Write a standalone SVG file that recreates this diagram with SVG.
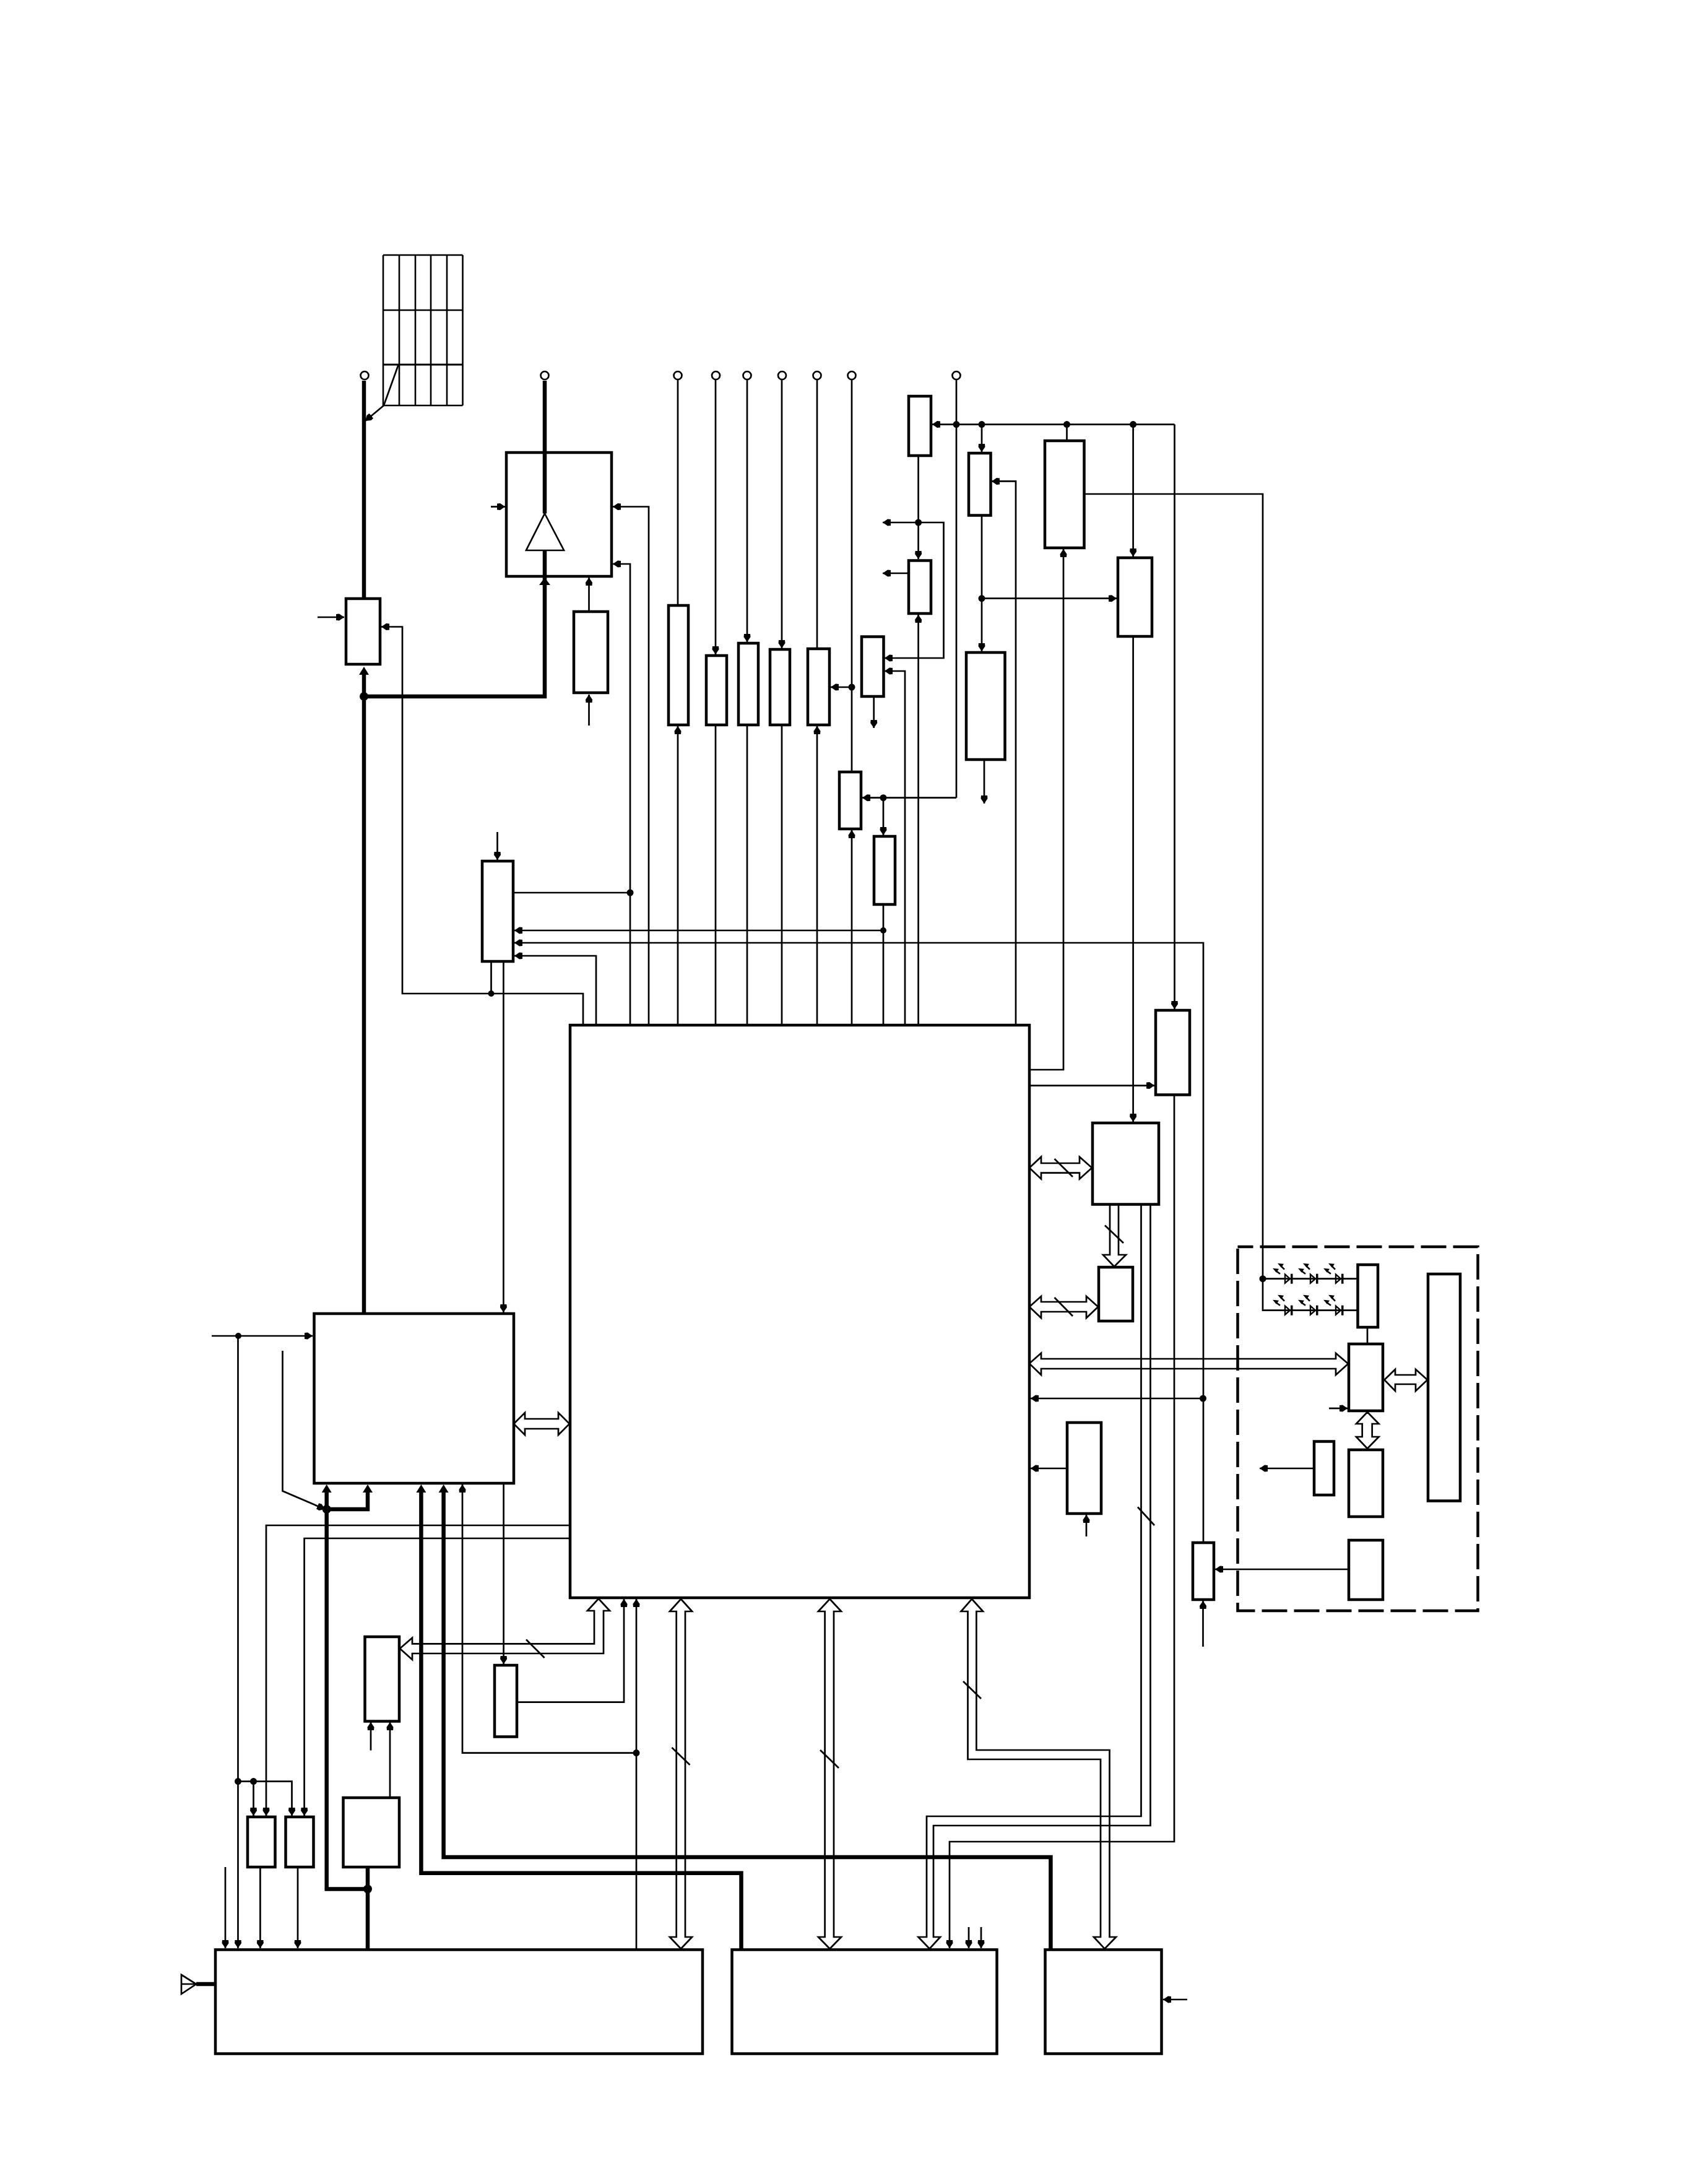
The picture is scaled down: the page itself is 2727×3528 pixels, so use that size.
<svg xmlns="http://www.w3.org/2000/svg" width="2727" height="3528" viewBox="0 0 2727 3528">
<style>
rect.b{fill:#fff;stroke:#000;stroke-width:4.5}
rect.s{fill:#fff;stroke:#000;stroke-width:4.5}
.c path,.c line{fill:none;stroke:#000;stroke-width:2.7}
.c path.k{stroke-width:6.5}
.c path.a{marker-end:url(#ar)}
.c path.ka{stroke-width:6.5;marker-end:url(#ar2)}
.c path.w{fill:none;stroke-width:2.7}
.c circle{fill:#000;stroke:none}
circle.t{fill:#fff;stroke:#000;stroke-width:2.7}
.g line{stroke:#000;stroke-width:2.6}
</style>
<defs>
<marker id="ar" markerUnits="userSpaceOnUse" markerWidth="14" markerHeight="12" refX="13" refY="6" orient="auto"><path d="M0,1 L5,0.5 L13,6 L5,11.5 L0,11 Z" fill="#000"/></marker>
<marker id="ar2" markerUnits="userSpaceOnUse" markerWidth="16" markerHeight="18" refX="7" refY="9" orient="auto"><path d="M0,1 L13,9 L0,17 Z" fill="#000"/></marker>
<g id="led">
<path d="M0,-7 L8,0 L0,7 Z" fill="#fff" stroke="#000" stroke-width="2.4"/>
<rect x="9" y="-8" width="3.5" height="16" fill="#000"/>
<path d="M-20,-17 L-10,-16 L-14,-10 Z" fill="#000"/><path d="M-15,-13 L-8,-8" stroke="#000" stroke-width="2.6"/>
<path d="M-12,-25 L-2,-24 L-6,-18 Z" fill="#000"/><path d="M-7,-21 L-1,-15" stroke="#000" stroke-width="2.6"/>
</g>
</defs>
<rect width="2727" height="3528" fill="#fff"/>

<g id="grid" class="g">
<line x1="619" y1="412" x2="747.5" y2="412"/><line x1="619" y1="501" x2="747.5" y2="501"/><line x1="619" y1="589" x2="747.5" y2="589" style="stroke-width:3.2"/><line x1="619" y1="655" x2="747.5" y2="655"/>
<line x1="619" y1="412" x2="619" y2="655"/><line x1="645" y1="412" x2="645" y2="655"/><line x1="671" y1="412" x2="671" y2="655"/><line x1="696" y1="412" x2="696" y2="655"/><line x1="722" y1="412" x2="722" y2="655"/><line x1="747.5" y1="412" x2="747.5" y2="655"/>
</g>

<g id="backlight-frame"><rect x="1999.5" y="2014" width="388" height="588" fill="none" stroke="#000" stroke-width="4.5" stroke-dasharray="41 11" stroke-dashoffset="16"/></g>

<g id="amp"><rect class="b" x="818" y="731" width="170" height="200"/><path d="M880,829.5 L911,889 L850,889 Z" fill="#fff" stroke="#000" stroke-width="2.7"/></g>
<g id="switch"><rect class="s" x="559" y="967" width="55" height="106"/></g>
<g id="n-ampsup"><rect class="s" x="927" y="988" width="55" height="131"/></g>
<g id="b1"><rect class="s" x="1080" y="978" width="32" height="193"/></g>
<g id="b2"><rect class="s" x="1141" y="1059" width="33" height="112"/></g>
<g id="b3"><rect class="s" x="1193" y="1039" width="32" height="132"/></g>
<g id="b4"><rect class="s" x="1244" y="1049" width="32" height="122"/></g>
<g id="b5"><rect class="s" x="1305" y="1048" width="35" height="123"/></g>
<g id="b6"><rect class="s" x="1392" y="1028.5" width="35.5" height="96.5"/></g>
<g id="c1"><rect class="s" x="1468" y="640" width="36" height="96"/></g>
<g id="c2"><rect class="s" x="1565" y="732" width="35.5" height="100.5"/></g>
<g id="c3"><rect class="s" x="1561" y="1054" width="62.5" height="173"/></g>
<g id="c4"><rect class="s" x="1688" y="712" width="63.5" height="173"/></g>
<g id="c5"><rect class="s" x="1806" y="901" width="55" height="127"/></g>
<g id="c6"><rect class="s" x="1468" y="905.5" width="36" height="85.5"/></g>
<g id="d1"><rect class="s" x="1356" y="1247" width="35" height="92"/></g>
<g id="d2"><rect class="s" x="1412" y="1351" width="34" height="110"/></g>
<g id="e"><rect class="s" x="779" y="1391" width="50" height="162"/></g>
<g id="main"><rect class="b" x="921" y="1656" width="742" height="925"/></g>
<g id="f"><rect class="b" x="507.5" y="2122" width="322.5" height="274"/></g>
<g id="h"><rect class="b" x="1765" y="1814" width="107" height="131.5"/></g>
<g id="i"><rect class="s" x="1867" y="1632" width="55" height="136.5"/></g>
<g id="j"><rect class="s" x="1775" y="2047" width="55" height="87"/></g>
<g id="p"><rect class="s" x="1724" y="2298" width="55" height="147"/></g>
<g id="g"><rect class="s" x="1927" y="2492" width="34" height="92"/></g>
<g id="q"><rect class="s" x="2193.5" y="2043" width="32.5" height="101"/></g>
<g id="r"><rect class="s" x="2179" y="2171" width="55" height="108"/></g>
<g id="s"><rect class="s" x="2307" y="2058" width="52" height="366.5"/></g>
<g id="t"><rect class="s" x="2179" y="2342" width="55" height="108"/></g>
<g id="u"><rect class="s" x="2123" y="2328.5" width="32" height="86.5"/></g>
<g id="v"><rect class="s" x="2179" y="2488" width="55" height="96"/></g>
<g id="n"><rect class="s" x="799" y="2690" width="36" height="115.5"/></g>
<g id="o"><rect class="s" x="589.5" y="2644" width="55.5" height="136.5"/></g>
<g id="m"><rect class="s" x="554.5" y="2904" width="90.5" height="112"/></g>
<g id="l1"><rect class="s" x="400" y="2935" width="44.5" height="81"/></g>
<g id="l2"><rect class="s" x="461.5" y="2935" width="45" height="81"/></g>
<g id="k1"><rect class="b" x="348" y="3149.5" width="787" height="168"/></g>
<g id="k2"><rect class="b" x="1182.5" y="3149.5" width="428" height="168"/></g>
<g id="k3"><rect class="b" x="1688.5" y="3149.5" width="188" height="168"/></g>
<g id="antenna"><path d="M293,3190 L317,3205 L293,3221 Z M293,3205 H317" fill="#fff" stroke="#000" stroke-width="2.7"/></g>
<g id="leds">
<use href="#led" x="2076" y="2065.7"/><use href="#led" x="2117" y="2065.7"/><use href="#led" x="2158" y="2065.7"/>
<use href="#led" x="2076" y="2116.7"/><use href="#led" x="2117" y="2116.7"/><use href="#led" x="2158" y="2116.7"/>
</g>

<g id="connectors" class="c">
<path class="k" d="M588,615 V966"/>
<path class="ka" d="M588,2122 V1083"/>
<path class="k" d="M880,615 V829.5"/>
<path class="k" d="M880,889 V1125 H588"/>
<path d="M871,945 L880,933 L889,945 Z" style="fill:#000;stroke:none"/>
<path class="k" d="M317,3205 H347.5"/>
<path class="k" d="M594,3017 V3149"/>
<path class="ka" d="M594,3051.5 H527.7 V2404"/>
<path class="ka" d="M527.7,2438 H594 V2404"/>
<path class="ka" d="M1197.5,3149 V3025.7 H680.4 V2404"/>
<path class="ka" d="M1697.4,3149 V3000 H716.6 V2404"/>
<circle cx="588" cy="1125" r="7"/><circle cx="527.7" cy="2438" r="7"/><circle cx="594" cy="3051.5" r="7"/>
<path class="a" d="M643.5,589.5 L620,655 L590,680"/>
<path class="a" d="M513,997 H556"/>
<path class="a" d="M793,818.5 H816"/>
<path class="a" d="M951.5,1172 V1122"/>
<path class="a" d="M951.5,988 V933"/>
<path class="a" d="M942,1656 V1605 H650 V1012.5 H616"/>
<path d="M793.5,1554 V1605"/><circle cx="793.5" cy="1605" r="5"/>
<path class="a" d="M813.4,1554 V2120"/>
<path class="a" d="M1048,1656 V818.5 H990"/>
<path class="a" d="M1018,1656 V911 H990"/>
<path d="M831,1442 H1018"/><circle cx="1018" cy="1442" r="5.5"/>
<path class="a" d="M963,1656 V1544 H831"/>
<path class="a" d="M803.5,1344 V1389"/>
<path class="a" d="M1427,1503 H831"/>
<path class="a" d="M1944,2492 V1523 H831"/>
<path class="a" d="M1095,1656 V1173"/><path d="M1095,614 V978"/>
<path class="a" d="M1156,614 V1057"/><path d="M1156,1171 V1656"/>
<path class="a" d="M1207,614 V1037"/><path d="M1207,1171 V1656"/>
<path class="a" d="M1263,614 V1047"/><path d="M1263,1171 V1656"/>
<path class="a" d="M1320,1656 V1173"/><path d="M1320,614 V1048"/>
<path d="M1376,614 V1247"/><path class="a" d="M1376,1656 V1341"/>
<path class="a" d="M1376,1110 H1342"/><circle cx="1376" cy="1110" r="5.5"/>
<path class="a" d="M1411.7,1125 V1176"/>
<path class="a" d="M1462,1656 V1084 H1429"/>
<path class="a" d="M1483.6,1656 V993"/>
<path class="a" d="M1483.6,736 V903"/><circle cx="1483.6" cy="844" r="5.5"/>
<path class="a" d="M1483.6,844 H1426"/>
<path class="a" d="M1483.6,844 H1524.5 V1063 H1429"/>
<path class="a" d="M1468,926 H1426"/>
<path d="M1545,614 V1288.7"/>
<path class="a" d="M1545,1288.7 H1393"/><circle cx="1545" cy="685.6" r="5.5"/><circle cx="1427" cy="1288.7" r="5.5"/>
<path class="a" d="M1427,1288.7 V1349"/>
<path d="M1427,1461 V1656"/><circle cx="1427" cy="1503" r="5"/>
<path class="a" d="M1897.5,685.6 H1506"/>
<path class="a" d="M1897.5,685.6 V1630"/>
<circle cx="1586" cy="685.6" r="5.5"/><circle cx="1723.5" cy="685.6" r="5.5"/><circle cx="1830.6" cy="685.6" r="5.5"/>
<path class="a" d="M1586,685.6 V730"/>
<path class="a" d="M1586,832.5 V1052"/><circle cx="1586" cy="966.7" r="5.5"/>
<path class="a" d="M1586,966.7 H1804"/>
<path class="a" d="M1590,1227 V1298"/>
<path class="a" d="M1641,1656 V777.4 H1602"/>
<path d="M1723.5,685.6 V712"/>
<path class="a" d="M1663,1728 H1718 V887"/>
<path d="M1751,798 H2040 V2116.7 H2193"/>
<path d="M2040,2065.7 H2193"/><circle cx="2040" cy="2065.7" r="5.5"/>
<path class="a" d="M1830.6,685.6 V899"/><path class="a" d="M1830.6,1028 V1812"/>
<path class="a" d="M1663,1753.6 H1865"/>
<path class="a" d="M1897,1768.5 V2975 H1534 V3147"/>
<path class="a" d="M1943.5,2259 H1665"/><circle cx="1943.5" cy="2259" r="5.5"/>
<path class="a" d="M1943.5,2660 V2586"/>
<path class="a" d="M2179,2535 H1963"/>
<path class="a" d="M2123,2372 H2035"/>
<path class="a" d="M2147,2275 H2177"/>
<path d="M2209,2144 V2171"/>
<path class="a" d="M1724,2372 H1665"/>
<path class="a" d="M1755,2482 V2447"/>
<path class="a" d="M342,2158 H505"/><circle cx="385" cy="2158" r="5"/>
<path class="a" d="M384.5,2158 V3147"/>
<circle cx="384.5" cy="2877.6" r="5.5"/><circle cx="409.5" cy="2877.6" r="5.5"/>
<path class="a" d="M384,2877.6 H471.5 V2933"/>
<path class="a" d="M409.5,2877.6 V2933"/>
<path class="a" d="M921,2464 H430 V2933"/>
<path class="a" d="M921,2485 H491.6 V2933"/>
<path class="a" d="M364,3016 V3147"/>
<path class="a" d="M420.4,3016 V3147"/>
<path class="a" d="M481,3016 V3147"/>
<path class="a" d="M456.5,2182 V2408.6 L525,2438"/>
<path class="a" d="M1028,2831.6 H747 V2398"/><circle cx="1028" cy="2831.6" r="5.5"/>
<path class="a" d="M1028,3149 V2583"/>
<path class="a" d="M813.6,2396 V2688"/>
<path class="a" d="M835,2749.6 H1008 V2583"/>
<path class="a" d="M599,2827.6 V2782"/>
<path class="a" d="M630,2904 V2782"/>
<path class="a" d="M1918,3230 H1879"/>
<path class="a" d="M1565,3113 V3147"/>
<path class="a" d="M1585,3113 V3147"/>
<path class="w" d="M830,2300 L848,2282 V2292 H902 V2282 L920,2300 L902,2318 V2308 H848 V2318 Z"/>
<path class="w" d="M1663,1886.6 L1682,1868.7 V1879 H1744 V1868.7 L1764,1886.6 L1744,1904.4 V1894.6 H1682 V1904.4 Z"/>
<line x1="1703.5" y1="1872" x2="1733" y2="1901"/>
<path class="w" d="M1663,2111 L1682,2094 V2103 H1755 V2094 L1774,2111 L1755,2129 V2119 H1682 V2129 Z"/>
<line x1="1703.5" y1="2096" x2="1733" y2="2126"/>
<path class="w" d="M1663,2202.6 L1682,2185.7 V2195 H2158 V2186 L2178,2203 L2158,2221 V2211 H1682 V2221 Z"/>
<path class="w" d="M1793,1947 V2027 H1782 L1800,2046 L1819,2027 H1807 V1947"/>
<line x1="1785" y1="1979.4" x2="1815" y2="2008"/>
<path class="w" d="M1843.5,1947 V2934 H1497 V3129 H1483.5 L1501.7,3148 L1519,3129 H1508 V2949 H1858.5 V1947"/>
<line x1="1838" y1="2434.5" x2="1865" y2="2464"/>
<path class="w" d="M1100,2583 L1118,2603 H1107 V3129 H1118 L1100,3148 L1082,3129 H1092.7 V2603 H1082 Z"/>
<line x1="1085.4" y1="2823" x2="1114.5" y2="2851"/>
<path class="w" d="M1340.5,2583 L1359,2603 H1347 V3129 H1359 L1340.5,3148 L1322,3129 H1332.6 V2603 H1322 Z"/>
<line x1="1325" y1="2827" x2="1355" y2="2856"/>
<path class="w" d="M1570,2583 L1588,2603 H1577.4 V2827 H1792.5 V3129 H1803 L1784.6,3148 L1767,3129 H1778 V2842 H1563.5 V2603 H1552.6 Z"/>
<line x1="1556" y1="2716" x2="1585" y2="2744"/>
<path class="w" d="M646,2663 L666,2645.7 V2655.4 H960 V2602 H949 L967,2582.5 L985,2602 H975 V2671 H666 V2681 Z"/>
<line x1="850" y1="2648.5" x2="879.6" y2="2678"/>
<path class="w" d="M2236.5,2229 L2254,2212 V2221 H2287 V2212 L2306,2229 L2287,2247 V2236 H2254 V2247 Z"/>
<path class="w" d="M2209,2281 L2227.5,2300 H2216.7 V2321 H2227.5 L2209,2340 L2191,2321 H2200.7 V2300 H2191 Z"/>
</g>

<g id="terminals">
<circle class="t" cx="589" cy="606.5" r="6.5"/><circle class="t" cx="880" cy="606.5" r="6.5"/><circle class="t" cx="1095" cy="606.5" r="6.5"/><circle class="t" cx="1156.5" cy="606.5" r="6.5"/><circle class="t" cx="1207" cy="606.5" r="6.5"/><circle class="t" cx="1263.5" cy="606.5" r="6.5"/><circle class="t" cx="1320" cy="606.5" r="6.5"/><circle class="t" cx="1376" cy="606.5" r="6.5"/><circle class="t" cx="1545" cy="606.5" r="6.5"/>
</g>
</svg>
